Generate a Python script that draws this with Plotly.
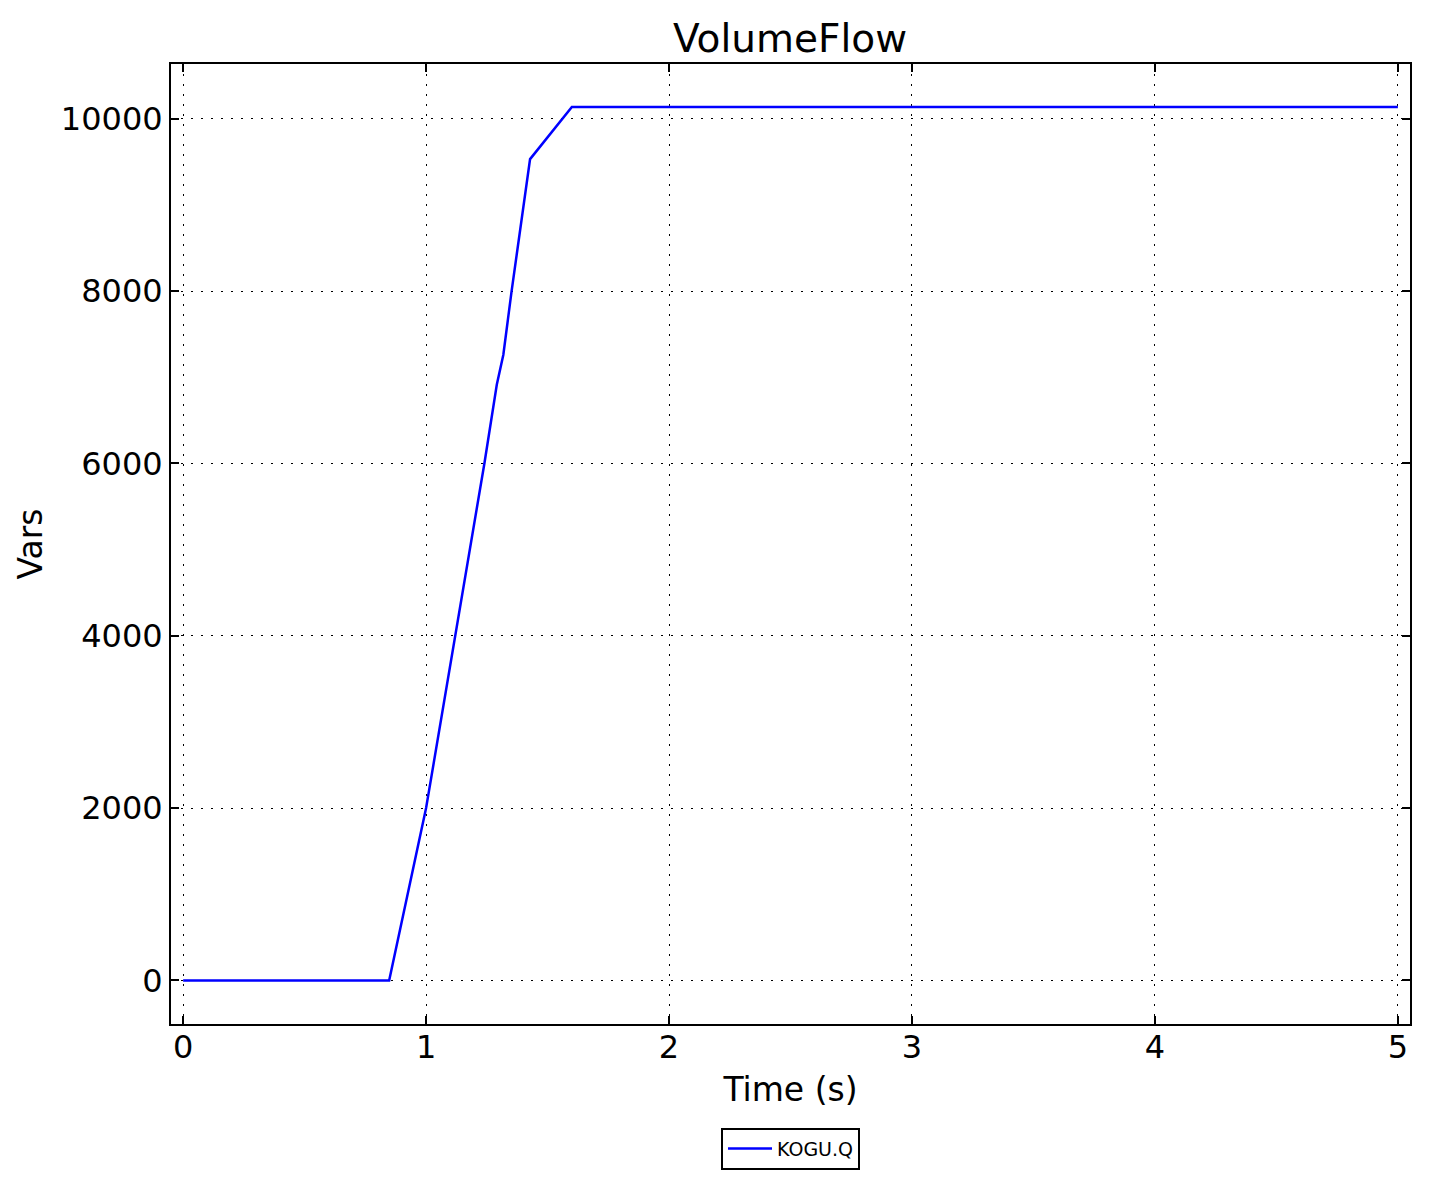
import plotly.graph_objects as go

time_s = [0.0, 0.848, 1.0, 1.119, 1.240, 1.291, 1.318, 1.352, 1.407, 1.428, 1.600, 5.0]
kogu_q = [0, 0, 2000, 4000, 6000, 6914, 7262, 8000, 9099, 9532, 10136, 10136]

font = "DejaVu Sans"
fig = go.Figure()
fig.add_trace(go.Scatter(x=time_s, y=kogu_q, mode="lines", name="KOGU.Q",
                         line=dict(color="#0000ff", width=2.5)))

axis_common = dict(showline=True, linecolor="black", linewidth=2, mirror="ticks",
                   ticks="inside", ticklen=8, tickwidth=1.5, tickcolor="black",
                   showgrid=True, gridcolor="black", gridwidth=1, griddash="2px,8px",
                   zeroline=False, tickfont=dict(family=font, size=32, color="black"))

fig.update_layout(
    width=1430, height=1183,
    paper_bgcolor="white", plot_bgcolor="white",
    margin=dict(l=163, r=28, t=56, b=167),
    title=dict(text="VolumeFlow", x=(790 - 8) / 1430, xanchor="center", y=1 - 30 / 1183, yanchor="middle",
               yref="container", font=dict(family=font, size=39, color="black")),
    xaxis=dict(range=[-0.05, 5.05], dtick=1, tick0=0, tickformat="d", ticklabelstandoff=-6,
               title=dict(text="Time (s)", font=dict(family=font, size=33, color="black"), standoff=12),
               **axis_common),
    yaxis=dict(range=[-506, 10636], dtick=2000, tick0=0, tickformat="d",
               title=dict(text="Vars", font=dict(family=font, size=33, color="black"), standoff=8),
               **axis_common),
    legend=dict(orientation="h", x=0.5, xanchor="center", y=-0.108, yanchor="top",
                bordercolor="black", borderwidth=2, bgcolor="white", itemwidth=44,
                font=dict(family=font, size=19, color="black")),
    showlegend=True,
)
fig.write_html("out.html")
